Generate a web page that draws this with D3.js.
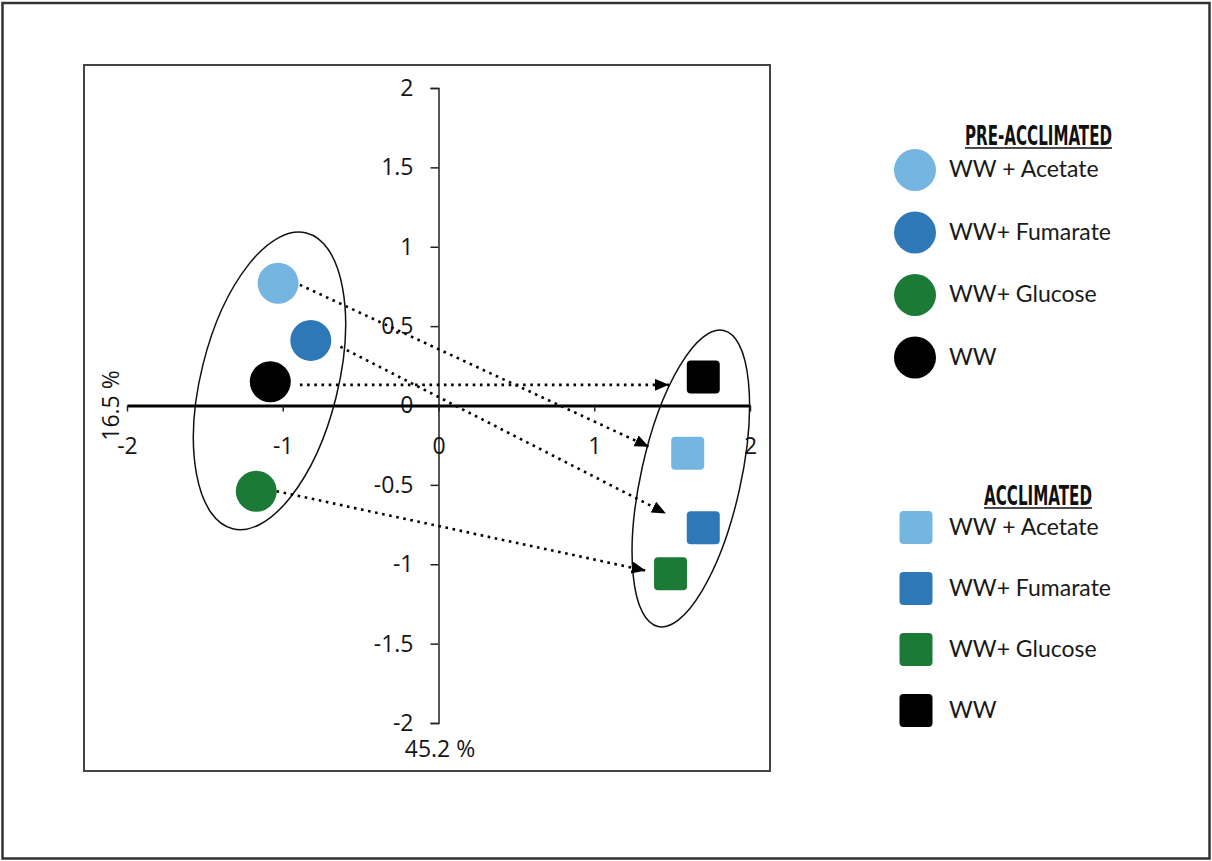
<!DOCTYPE html>
<html>
<head>
<meta charset="utf-8">
<script src="https://cdn.jsdelivr.net/npm/d3@7"></script>
<style>
  html, body { margin: 0; padding: 0; background: #fff; }
  svg { display: block; }
  .tick text { font-family: "Open Sans", "Liberation Sans", sans-serif; font-size: 23px; fill: #151515; }
</style>
</head>
<body>
<svg id="chart" width="1212" height="861"></svg>
<script>
// Treatment groups, in legend order
const groups = ["WW + Acetate", "WW+ Fumarate", "WW+ Glucose", "WW"];
const groupColors = ["#74b6df", "#2f78b8", "#1b7a36", "#000000"];

// PCA scores, pre-acclimated samples (circles)
const preX = [-1.03, -0.82, -1.17, -1.08];
const preY = [0.77, 0.41, -0.54, 0.15];

// PCA scores, acclimated samples (squares)
const accX = [1.60, 1.70, 1.49, 1.70];
const accY = [-0.30, -0.77, -1.06, 0.18];

// Arrows linking each pre-acclimated sample to its acclimated counterpart
const arrowFromX = [-0.89, -0.63, -1.04, -0.89];
const arrowFromY = [0.76, 0.37, -0.54, 0.13];
const arrowToX = [1.35, 1.46, 1.33, 1.48];
const arrowToY = [-0.26, -0.68, -1.04, 0.13];

// Grouping ellipses: centre, semi-axes (data units), tilt in degrees
const ellipseCx = [-1.085, 1.62];
const ellipseCy = [0.155, -0.46];
const ellipseRx = [0.44, 0.32];
const ellipseRy = [0.96, 0.955];
const ellipseTilt = [14, 12.5];

// Axis ticks and titles
const xTicks = [-2, -1, 0, 1, 2];
const yTicks = [-2, -1.5, -1, -0.5, 0, 0.5, 1, 1.5, 2];
const xTitle = "45.2 %";
const yTitle = "16.5 %";
const legendTitles = ["PRE-ACCLIMATED", "ACCLIMATED"];

const svg = d3.select("#chart");

// Outer frame and plot frame
svg.append("rect").attr("x", 2.5).attr("y", 3).attr("width", 1207).attr("height", 855.5)
  .attr("fill", "none").attr("stroke", "#333").attr("stroke-width", 2.5);
svg.append("rect").attr("x", 84).attr("y", 65).attr("width", 686).attr("height", 706)
  .attr("fill", "none").attr("stroke", "#444").attr("stroke-width", 2);

const x = d3.scaleLinear().domain([-2, 2]).range([127, 750]);
const y = d3.scaleLinear().domain([-2, 2]).range([723, 88]);

// Vertical axis through x = 0
const yAxis = svg.append("g")
  .attr("transform", `translate(${x(0)},0)`)
  .call(d3.axisLeft(y).tickValues(yTicks).tickSize(8).tickPadding(17).tickSizeOuter(8)
        .tickFormat(d => String(d)));
yAxis.select(".domain").attr("stroke", "#222").attr("stroke-width", 1.5);
yAxis.selectAll(".tick line").attr("stroke", "#222").attr("stroke-width", 1.5);

// Horizontal axis through y = 0
const xAxis = svg.append("g")
  .attr("transform", `translate(0,${y(0)})`)
  .call(d3.axisBottom(x).tickValues(xTicks).tickSize(6).tickSizeOuter(0).tickPadding(26)
        .tickFormat(d => String(d)));
xAxis.select(".domain").attr("stroke", "#000").attr("stroke-width", 3);
xAxis.selectAll(".tick line").attr("stroke", "#222").attr("stroke-width", 1.5);

// Axis titles
svg.append("text").attr("x", 440).attr("y", 757).attr("text-anchor", "middle")
  .attr("font-family", "Open Sans, sans-serif").attr("font-size", 23).attr("fill", "#151515")
  .text(xTitle);
svg.append("text").attr("transform", `translate(111,${y(0)}) rotate(-90)`)
  .attr("text-anchor", "middle").attr("dy", "0.35em")
  .attr("font-family", "Open Sans, sans-serif").attr("font-size", 23).attr("fill", "#151515")
  .text(yTitle);

// Grouping ellipses
const kx = (x(1) - x(0)), ky = (y(0) - y(1));
svg.selectAll("ellipse.group").data(ellipseCx).join("ellipse")
  .attr("class", "group")
  .attr("transform", (d, i) => `translate(${x(d)},${y(ellipseCy[i])}) rotate(${ellipseTilt[i]})`)
  .attr("rx", (d, i) => ellipseRx[i] * kx)
  .attr("ry", (d, i) => ellipseRy[i] * ky)
  .attr("fill", "none").attr("stroke", "#111").attr("stroke-width", 1.5);

// Arrowhead
svg.append("defs").append("marker")
  .attr("id", "head").attr("markerUnits", "userSpaceOnUse")
  .attr("viewBox", "0 0 14 12").attr("refX", 14).attr("refY", 6)
  .attr("markerWidth", 14).attr("markerHeight", 12).attr("orient", "auto")
  .append("path").attr("d", "M0,0L14,6L0,12Z").attr("fill", "#000");

// Dotted transition arrows
svg.selectAll("line.arrow").data(arrowFromX).join("line")
  .attr("class", "arrow")
  .attr("x1", d => x(d)).attr("y1", (d, i) => y(arrowFromY[i]))
  .attr("x2", (d, i) => x(arrowToX[i])).attr("y2", (d, i) => y(arrowToY[i]))
  .attr("stroke", "#000").attr("stroke-width", 2.6)
  .attr("stroke-dasharray", "2.6 4.6")
  .attr("marker-end", "url(#head)");

// Pre-acclimated samples
svg.selectAll("circle.pre").data(preX).join("circle")
  .attr("class", "pre")
  .attr("cx", d => x(d)).attr("cy", (d, i) => y(preY[i])).attr("r", 20.5)
  .attr("fill", (d, i) => groupColors[i]);

// Acclimated samples
const sq = 33;
svg.selectAll("rect.acc").data(accX).join("rect")
  .attr("class", "acc")
  .attr("x", d => x(d) - sq / 2).attr("y", (d, i) => y(accY[i]) - sq / 2)
  .attr("width", sq).attr("height", sq).attr("rx", 4)
  .attr("fill", (d, i) => groupColors[i]);

// Legends
const titleFont = "'DejaVu Sans Condensed', 'Liberation Sans Narrow', sans-serif";
const itemFont = "Lato, 'Open Sans', sans-serif";

function legendTitle(text, xl, yb, w) {
  svg.append("text").attr("x", xl).attr("y", yb)
    .attr("font-family", titleFont).attr("font-weight", "bold").attr("font-size", 26)
    .attr("textLength", w).attr("lengthAdjust", "spacingAndGlyphs").attr("fill", "#111")
    .text(text);
  svg.append("line").attr("x1", xl).attr("x2", xl + w).attr("y1", yb + 3).attr("y2", yb + 3)
    .attr("stroke", "#111").attr("stroke-width", 1.5);
}

legendTitle(legendTitles[0], 965, 145, 147);
legendTitle(legendTitles[1], 984, 505, 108);

const preLegendY = d3.range(groups.length).map(i => 170 + i * 62.5);
const accLegendY = d3.range(groups.length).map(i => 527.5 + i * 61);

svg.selectAll("circle.leg").data(groups).join("circle")
  .attr("class", "leg")
  .attr("cx", 915).attr("cy", (d, i) => preLegendY[i]).attr("r", 21)
  .attr("fill", (d, i) => groupColors[i]);
svg.selectAll("text.legpre").data(groups).join("text")
  .attr("class", "legpre")
  .attr("x", 949).attr("y", (d, i) => preLegendY[i] + 7)
  .attr("font-family", itemFont).attr("font-size", 23).attr("fill", "#1a1a1a")
  .text(d => d);

svg.selectAll("rect.leg").data(groups).join("rect")
  .attr("class", "leg")
  .attr("x", 916 - sq / 2).attr("y", (d, i) => accLegendY[i] - sq / 2)
  .attr("width", sq).attr("height", sq).attr("rx", 4)
  .attr("fill", (d, i) => groupColors[i]);
svg.selectAll("text.legacc").data(groups).join("text")
  .attr("class", "legacc")
  .attr("x", 949).attr("y", (d, i) => accLegendY[i] + 7)
  .attr("font-family", itemFont).attr("font-size", 23).attr("fill", "#1a1a1a")
  .text(d => d);
</script>
</body>
</html>
